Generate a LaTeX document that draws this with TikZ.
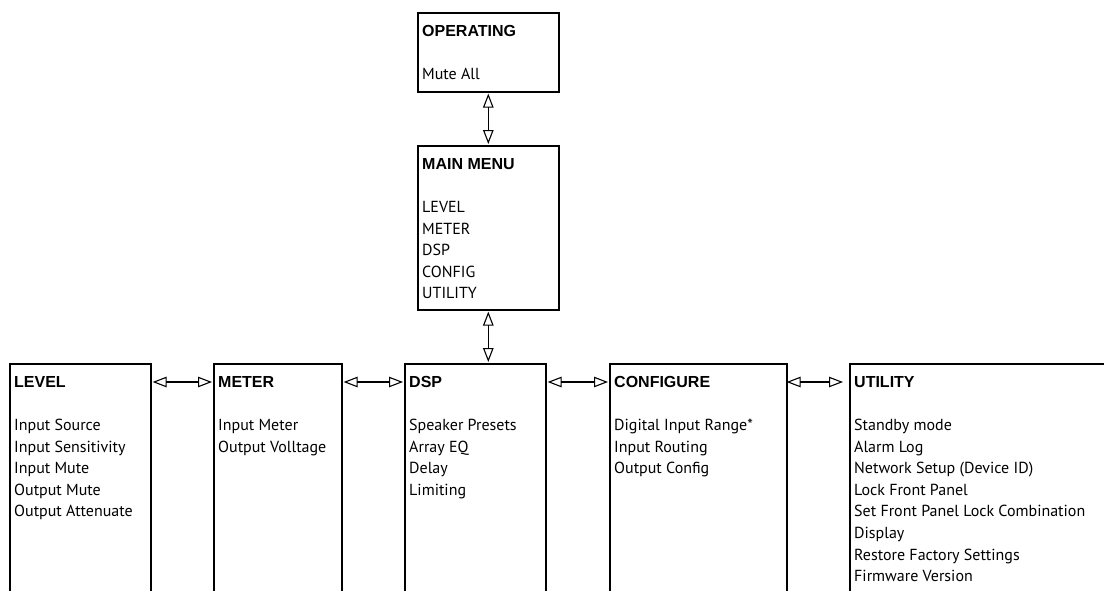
\documentclass[tikz,border=0pt]{standalone}
\usepackage{fontspec}
\setmainfont{PT Sans}
\newfontfamily\hdfont{Liberation Sans}
\usetikzlibrary{arrows.meta}
\usetikzlibrary{positioning}
\usetikzlibrary{calc}
\tikzstyle{menubox}=[rectangle,draw,line width=1.6pt,anchor=north west,inner sep=0pt]
\tikzstyle{menutext}=[anchor=north west,align=left,inner sep=0pt,font=\fontsize{16}{21.6}\selectfont]
\tikzstyle{link}=[draw,line width=1.1pt,{Triangle[open,length=14pt,width=10.5pt]}-{Triangle[open,length=14pt,width=10.5pt]}]
\newcommand{\hd}[1]{\rule{0pt}{12pt}{\hdfont\bfseries #1}}

\begin{document}
\begin{tikzpicture}[x=1pt,y=-1pt]

  \useasboundingbox (0,0) rectangle (1104,590);

  % menu boxes
  \foreach \x/\y/\w/\h/\name in {417/12/141/79/operating, 417/145/141/164/mainmenu, 9/363/141/240/level, 213/363/128/240/meter, 404/363/141/240/dsp, 609/363/177/240/configure, 849/363/270/240/utility}
          \node[menubox,minimum width=\w pt,minimum height=\h pt] (\name) at (\x,\y) {};

  % menu entries
  \foreach \name/\entries in {operating/{\hd{OPERATING}\\[21.6pt]Mute All},
                              mainmenu/{\hd{MAIN MENU}\\[21.6pt]LEVEL\\METER\\DSP\\CONFIG\\UTILITY},
                              level/{\hd{LEVEL}\\[21.6pt]Input Source\\Input Sensitivity\\Input Mute\\Output Mute\\Output Attenuate},
                              meter/{\hd{METER}\\[21.6pt]Input Meter\\Output Volltage},
                              dsp/{\hd{DSP}\\[21.6pt]Speaker Presets\\Array EQ\\Delay\\Limiting},
                              configure/{\hd{CONFIGURE}\\[21.6pt]Digital Input Range*\\Input Routing\\Output Config},
                              utility/{\hd{UTILITY}\\[21.6pt]Standby mode\\Alarm Log\\Network Setup (Device ID)\\Lock Front Panel\\Set Front Panel Lock Combination\\Display\\Restore Factory Settings\\Firmware Version}}
          \node[menutext] (\name text) at ($(\name.north west)+(5,12)$) {\entries};

  % links
  \path[link,shorten <=1pt,shorten >=1pt] (operating) -- (mainmenu);
  \path[link,shorten <=1pt,shorten >=1pt] (mainmenu.south) -- (mainmenu.south |- dsp.north);

  \foreach \source/\dest/\sa/\sb in {level/meter/1/1, meter/dsp/1/1, dsp/configure/1/1, configure/utility/-1/6}
         \path[link,shorten <=\sa pt,shorten >=\sb pt] ([yshift=-19pt]\source.north east) -- ([yshift=-19pt]\dest.north west);

\end{tikzpicture}
\end{document}
